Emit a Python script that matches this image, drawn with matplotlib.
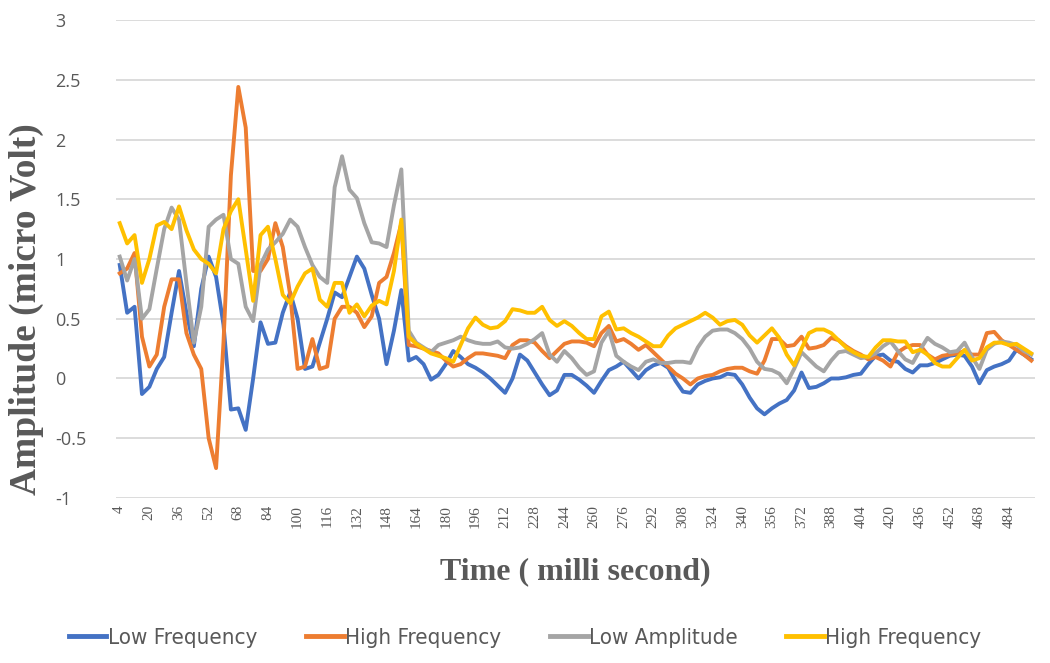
import numpy as np
import matplotlib
matplotlib.use("Agg")
import matplotlib.pyplot as plt

# time axis (ms), one sample every 4 ms
time_ms = list(range(4, 500, 4))
tick_labels = [str(t) for t in range(4, 500, 16)]

low_freq = [
    0.95, 0.55, 0.6, -0.13, -0.07, 0.08, 0.18, 0.55, 0.9, 0.55,
    0.27, 0.75, 1.02, 0.85, 0.45, -0.26, -0.25, -0.43, 0.0, 0.47,
    0.29, 0.3, 0.55, 0.72, 0.5, 0.08, 0.1, 0.3, 0.5, 0.72,
    0.68, 0.85, 1.02, 0.92, 0.7, 0.5, 0.12, 0.4, 0.74, 0.15,
    0.18, 0.12, -0.01, 0.03, 0.12, 0.23, 0.18, 0.12, 0.09, 0.05,
    0.0, -0.06, -0.12, 0.0, 0.2, 0.15, 0.05, -0.05, -0.14, -0.1,
    0.03, 0.03, -0.01, -0.06, -0.12, -0.02, 0.07, 0.1, 0.14, 0.07,
    0.0, 0.07, 0.11, 0.13, 0.09, -0.02, -0.11, -0.12, -0.05, -0.02,
    0.0, 0.01, 0.04, 0.03, -0.05, -0.16, -0.25, -0.3, -0.25, -0.21,
    -0.18, -0.1, 0.05, -0.08, -0.07, -0.04, 0.0, 0.0, 0.01, 0.03,
    0.04, 0.12, 0.19, 0.2, 0.15, 0.14, 0.08, 0.05, 0.11, 0.11,
    0.13, 0.16, 0.19, 0.2, 0.19, 0.1, -0.04, 0.07, 0.1, 0.12,
    0.15, 0.24, 0.2, 0.16,
]

high_freq = [
    0.88, 0.92, 1.05, 0.35, 0.1, 0.2, 0.6, 0.83, 0.83, 0.38,
    0.2, 0.08, -0.5, -0.75, 0.3, 1.7, 2.44, 2.1, 0.9, 0.9,
    1.0, 1.3, 1.1, 0.7, 0.08, 0.1, 0.33, 0.08, 0.1, 0.5,
    0.6, 0.6, 0.55, 0.43, 0.52, 0.8, 0.85, 1.05, 1.3, 0.28,
    0.27, 0.25, 0.23, 0.21, 0.15, 0.1, 0.12, 0.17, 0.21, 0.21,
    0.2, 0.19, 0.17, 0.28, 0.32, 0.32, 0.3, 0.23, 0.17, 0.23,
    0.29, 0.31, 0.31, 0.3, 0.27, 0.38, 0.44, 0.31, 0.33, 0.29,
    0.24, 0.28, 0.22, 0.16, 0.1, 0.04, 0.0, -0.05, 0.0, 0.02,
    0.03, 0.06, 0.08, 0.09, 0.09, 0.06, 0.04, 0.15, 0.33, 0.33,
    0.27, 0.28, 0.35, 0.25, 0.26, 0.28, 0.34, 0.32, 0.27, 0.23,
    0.2, 0.16, 0.18, 0.15, 0.1, 0.22, 0.26, 0.28, 0.28, 0.2,
    0.16, 0.19, 0.2, 0.21, 0.23, 0.2, 0.2, 0.38, 0.39, 0.32,
    0.28, 0.24, 0.2, 0.15,
]

low_amp = [
    1.02, 0.82, 1.0, 0.5, 0.58, 0.92, 1.25, 1.43, 1.33, 0.8,
    0.3, 0.6, 1.27, 1.33, 1.37, 1.0, 0.96, 0.6, 0.48, 0.95,
    1.08, 1.14, 1.21, 1.33, 1.27, 1.1, 0.95, 0.85, 0.8, 1.6,
    1.86, 1.58, 1.51, 1.3, 1.14, 1.13, 1.1, 1.45, 1.75, 0.4,
    0.3, 0.26, 0.22, 0.28, 0.3, 0.32, 0.35, 0.32, 0.3, 0.29,
    0.29, 0.31, 0.26, 0.25, 0.26, 0.29, 0.33, 0.38, 0.2, 0.14,
    0.23, 0.17, 0.09, 0.03, 0.06, 0.3, 0.4, 0.19, 0.14, 0.1,
    0.07, 0.14, 0.16, 0.13, 0.13, 0.14, 0.14, 0.13, 0.26, 0.35,
    0.4, 0.41, 0.41, 0.38, 0.33, 0.25, 0.14, 0.08, 0.07, 0.04,
    -0.04, 0.08, 0.22, 0.16, 0.1, 0.06, 0.15, 0.22, 0.23, 0.2,
    0.17, 0.18, 0.21, 0.27, 0.31, 0.23, 0.16, 0.13, 0.24, 0.34,
    0.29, 0.26, 0.22, 0.23, 0.3, 0.18, 0.08, 0.24, 0.29, 0.31,
    0.3, 0.28, 0.23, 0.2,
]

high_freq_2 = [
    1.3, 1.13, 1.2, 0.8, 1.0, 1.28, 1.31, 1.25, 1.44, 1.24,
    1.08, 1.0, 0.96, 0.88, 1.25, 1.4, 1.5, 1.08, 0.65, 1.2,
    1.27, 1.0, 0.7, 0.63, 0.77, 0.88, 0.92, 0.66, 0.6, 0.8,
    0.8, 0.55, 0.62, 0.52, 0.61, 0.65, 0.62, 0.9, 1.33, 0.35,
    0.29, 0.25, 0.21, 0.19, 0.17, 0.14, 0.28, 0.42, 0.51, 0.45,
    0.42, 0.43, 0.48, 0.58, 0.57, 0.55, 0.55, 0.6, 0.49, 0.44,
    0.48, 0.44, 0.38, 0.33, 0.33, 0.52, 0.56, 0.41, 0.42, 0.38,
    0.35, 0.31, 0.27, 0.27, 0.36, 0.42, 0.45, 0.48, 0.51, 0.55,
    0.51, 0.45, 0.48, 0.49, 0.45, 0.36, 0.3, 0.36, 0.42, 0.34,
    0.2, 0.11, 0.25, 0.38, 0.41, 0.41, 0.38, 0.32, 0.26, 0.22,
    0.19, 0.18, 0.26, 0.32, 0.32, 0.31, 0.31, 0.22, 0.24, 0.2,
    0.13, 0.1, 0.1, 0.17, 0.24, 0.15, 0.17, 0.26, 0.3, 0.3,
    0.28, 0.29, 0.25, 0.21,
]

series = [
    ("Low Frequency", low_freq, "#4472C4"),
    ("High Frequency", high_freq, "#ED7D31"),
    ("Low Amplitude", low_amp, "#A5A5A5"),
    ("High Frequency", high_freq_2, "#FFC000"),
]

fig = plt.figure(figsize=(10.5, 6.63), dpi=100)
ax = fig.add_axes([0.1105, 0.2489, 0.8752, 0.7209])

x = np.arange(len(time_ms))
for name, vals, col in series:
    ax.plot(x, vals, color=col, lw=2.8, label=name, solid_joinstyle="round")

ax.set_xlim(-0.5, len(time_ms) - 0.5)
ax.set_ylim(-1, 3)
ax.set_yticks(np.arange(-1, 3.01, 0.5))
ax.set_yticklabels(["-1", "-0.5", "0", "0.5", "1", "1.5", "2", "2.5", "3"])
ax.set_xticks(x[::4])
ax.set_xticklabels(tick_labels, rotation=90)

for s in ax.spines.values():
    s.set_visible(False)
ax.grid(axis="y", color="#d9d9d9", lw=1.3)
ax.set_axisbelow(True)
ax.tick_params(axis="y", length=0, pad=44, labelsize=13, labelcolor="#595959")
ax.tick_params(axis="x", length=0, pad=5, labelsize=11, labelcolor="#595959")
for lab in ax.get_yticklabels():
    lab.set_horizontalalignment("left")
    lab.set_fontfamily("Open Sans")
for lab in ax.get_xticklabels():
    lab.set_fontfamily("Liberation Serif")

fig.text(0.548, 0.137, "Time ( milli second)", ha="center", va="center",
         fontsize=23, fontweight="bold", family="Liberation Serif", color="#595959")
fig.text(0.025, 0.534, "Amplitude (micro Volt)", ha="center", va="center",
         rotation=90, fontsize=27, fontweight="bold", family="Liberation Serif",
         color="#595959")

leg = fig.legend(loc="center", bbox_to_anchor=(0.5, 0.038), ncol=4, frameon=False,
                 handlelength=1.7, handletextpad=0.05, columnspacing=2.2,
                 prop={"family": ["DejaVu Sans"], "stretch": "condensed", "size": 16})
for t in leg.get_texts():
    t.set_color("#595959")
for h in leg.get_lines():
    h.set_linewidth(3.5)

fig.savefig("out.png", dpi=100)
